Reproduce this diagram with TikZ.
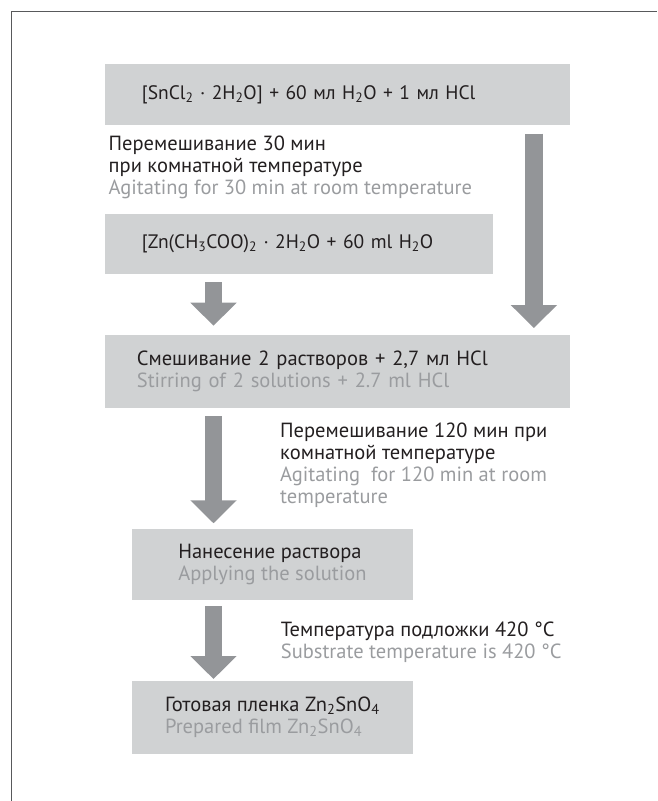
\documentclass[tikz,border=0pt]{standalone}
\usepackage{fontspec}
\setmainfont{PT Sans}
\usepackage{tikz}
\usetikzlibrary{arrows.meta,positioning}
\definecolor{boxgray}{HTML}{D0D2D3}
\definecolor{arrowgray}{HTML}{939598}
\definecolor{engray}{HTML}{9A9C9F}
\definecolor{inkblack}{HTML}{231F20}
\definecolor{framegray}{HTML}{58595B}
\newcommand{\ix}[1]{\textsubscript{#1}}
\newcommand{\en}[1]{\textcolor{engray}{#1}}

\begin{document}
\begin{tikzpicture}[x=1pt,y=-1pt,
		every node/.style={font=\fontsize{20.5}{22}\selectfont, text=inkblack},
		formula/.style={font=\fontsize{19.5}{22}\selectfont},
		stage/.style={fill=boxgray, anchor=north west, inner ysep=0pt, align=left},
		flowarrow/.style={draw=arrowgray, line width=17.5pt, -{Triangle[width=45pt,length=23pt]}},
		note/.style={anchor=base west, inner sep=0pt, align=left}]
			\useasboundingbox (0,0) rectangle (657,801);
			\draw[framegray, line width=1.5pt] (11.7,801) |- (657,11.7);
			% boxes
			\node[stage, formula, minimum width=465pt, minimum height=60.5pt, text width=391.6pt, inner xsep=36.7pt] (box1) at (105,64)
				{[SnCl\ix{2} · 2H\ix{2}O] + 60 мл H\ix{2}O + 1 мл HCl};
			\node[stage, formula, minimum width=387.7pt, minimum height=60.2pt, text width=314.3pt, inner xsep=36.7pt] (box2) at (105,213.3)
				{\mbox{[Zn(CH\ix{3}COO)\ix{2} · 2H\ix{2}O + 60 ml H\ix{2}O}};
			\node[stage, minimum width=465pt, minimum height=72.7pt, text width=401.6pt, inner xsep=31.7pt] (box3) at (105,335)
				{Смешивание 2 растворов + 2,7 мл HCl\\\en{Stirring of 2 solutions + 2.7 ml HCl}};
			\node[stage, minimum width=281pt, minimum height=71.7pt] (box4) at (131.7,528.3)
				{Нанесение раствора\\\en{Applying the solution}};
			\node[stage, minimum width=281pt, minimum height=72.3pt] (box5) at (131.7,681)
				{Готовая пленка Zn\ix{2}SnO\ix{4}\\\en{Prepared film Zn\ix{2}SnO\ix{4}}};
			% notes (base = last line)
			\node[note] (note1) at (108.5,194.7)
				{Перемешивание 30 мин\\при комнатной температуре\\\en{Agitating for 30 min at room temperature}};
			\node[note] (note2) at (280,503.3)
				{Перемешивание 120 мин при\\комнатной температуре\\\en{Agitating\ \ for 120 min at room}\\\en{temperature}};
			\node[note] (note3) at (280.7,658)
				{Температура подложки 420 °C\\\en{Substrate temperature is 420 °C}};
			% arrows
			\draw[flowarrow] ([xshift=-36.5pt,yshift=-8.8pt]box1.south east) -- ([xshift=-36.5pt,yshift=7pt]box3.north east);
			\draw[flowarrow] ([xshift=108.5pt,yshift=-8.2pt]box2.south west) -- ([xshift=108.5pt,yshift=9.3pt]box3.north west);
			\draw[flowarrow] ([xshift=108.5pt,yshift=-8.3pt]box3.south west) -- ([xshift=81.8pt,yshift=5pt]box4.north west);
			\draw[flowarrow] ([xshift=81.8pt,yshift=-6pt]box4.south west) -- ([xshift=81.8pt,yshift=2pt]box5.north west);
		\end{tikzpicture}
\end{document}
